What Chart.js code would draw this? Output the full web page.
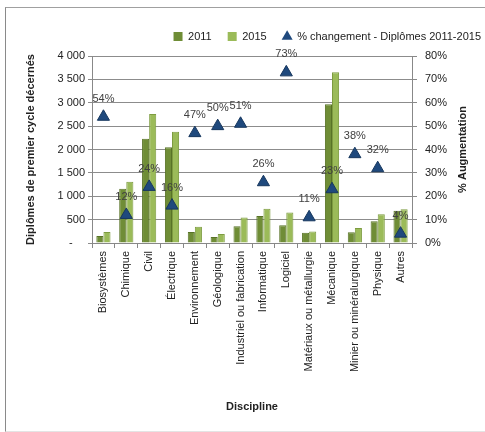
<!DOCTYPE html>
<html>
<head>
<meta charset="utf-8">
<script src="https://cdn.jsdelivr.net/npm/chart.js@4"></script>
<style>
  body { margin: 0; background: #fff; }
  #wrap { position: relative; width: 485px; height: 432px; overflow: hidden; }
  #frame { position: absolute; left: 5px; top: 7px; width: 520px; height: 423px;
           border-left: 1px solid #8a8a8a; border-top: 1px solid #a0a0a0; border-bottom: 1px solid #e4e4e4; }
  canvas { position: absolute; left: 0; top: 0; }
</style>
</head>
<body>
<div id="wrap">
  <div id="frame"></div>
  <canvas id="myChart" width="485" height="432"></canvas>
</div>
<script>
var disciplines = ['Biosystèmes', 'Chimique', 'Civil', 'Électrique', 'Environnement', 'Géologique',
    'Industriel ou fabrication', 'Informatique', 'Logiciel', 'Matériaux ou métallurgie', 'Mécanique',
    'Minier ou minéralurgique', 'Physique', 'Autres']
var diplomes2011 = [150, 1160, 2230, 2050, 235, 130, 360, 580, 380, 220, 2970, 230, 465, 690]
var diplomes2015 = [235, 1310, 2760, 2380, 345, 195, 545, 730, 655, 245, 3655, 320, 615, 720]
var changement = [54, 12, 24, 16, 47, 50, 51, 26, 73, 11, 23, 38, 32, 4]

var police = "'Liberation Sans', Arial, sans-serif"

// petit espace entre la légende et la zone du graphique
var espace = {
    id: 'espace',
    beforeInit: function (chart) {
        Chart.layouts.addBox(chart, {
            position: 'top', weight: 0, fullSize: true, options: {},
            left: 0, top: 0, right: 0, bottom: 0, width: 0, height: 0,
            isHorizontal: function () { return true },
            update: function (maxWidth) { this.width = maxWidth; this.height = 4 },
            draw: function () {}
        })
    }
}

// étiquettes des triangles + titre de l'axe de droite
var etiquettes = {
    id: 'etiquettes',
    afterDatasetsDraw: function (chart) {
        var ctx = chart.ctx
        var meta = chart.getDatasetMeta(2)
        ctx.save()
        ctx.font = '11px ' + police
        ctx.fillStyle = '#404040'
        ctx.textAlign = 'center'
        ctx.textBaseline = 'middle'
        meta.data.forEach(function (pt, i) {
            ctx.fillText(changement[i] + '%', pt.x, pt.y - 18)
        })
        ctx.restore()
    },
    afterDraw: function (chart) {
        var ctx = chart.ctx
        var area = chart.chartArea
        ctx.save()
        ctx.translate(463, (area.top + area.bottom) / 2)
        ctx.rotate(-Math.PI / 2)
        ctx.font = 'bold 11px ' + police
        ctx.fillStyle = '#222'
        ctx.textAlign = 'center'
        ctx.textBaseline = 'middle'
        ctx.fillText('% Augmentation', 0, 0)
        ctx.restore()
    }
}

const abc = document.getElementById('myChart')
const myChart = new Chart(abc, {
    data: {
        labels: disciplines,
        datasets: [{
            type: 'bar',
            label: '2011',
            data: diplomes2011,
            backgroundColor: '#6f8d36',
            borderColor: '#587327',
            borderWidth: 1,
            yAxisID: 'y',
            order: 2
        }, {
            type: 'bar',
            label: '2015',
            data: diplomes2015,
            backgroundColor: '#9bbb59',
            borderColor: '#7d9c40',
            borderWidth: 1,
            yAxisID: 'y',
            order: 2
        }, {
            type: 'line',
            label: '% changement - Diplômes 2011-2015',
            data: changement,
            yAxisID: 'y1',
            showLine: false,
            pointStyle: 'triangle',
            pointRadius: 7,
            pointHoverRadius: 7,
            backgroundColor: '#1f497d',
            borderColor: '#17375e',
            pointBorderWidth: 1,
            order: 1
        }]
    },
    plugins: [espace, etiquettes],
    options: {
        responsive: false,
        animation: false,
        layout: { padding: { left: 20, right: -12, top: 15, bottom: 14 } },
        datasets: {
            bar: { categoryPercentage: 0.62, barPercentage: 1 }
        },
        plugins: {
            tooltip: { enabled: false },
            legend: {
                align: 'end',
                labels: {
                    usePointStyle: true,
                    boxWidth: 9,
                    boxHeight: 9,
                    padding: 16,
                    color: '#222',
                    font: { family: police, size: 11 },
                    generateLabels: function (chart) {
                        var items = Chart.defaults.plugins.legend.labels.generateLabels(chart)
                        items.sort(function (a, b) { return a.datasetIndex - b.datasetIndex })
                        items.forEach(function (it) {
                            it.pointStyle = it.datasetIndex < 2 ? 'rect' : 'triangle'
                            it.lineWidth = 0
                        })
                        return items
                    }
                }
            }
        },
        scales: {
            x: {
                grid: { offset: true, drawOnChartArea: false, tickLength: 5, color: '#888' },
                border: { color: '#888' },
                ticks: {
                    autoSkip: false, maxRotation: 90, minRotation: 90, padding: 3,
                    color: '#222', font: { family: police, size: 11 }
                },
                title: {
                    display: true, text: 'Discipline', color: '#222',
                    font: { family: police, size: 11, weight: 'bold' }
                },
                afterFit: function (s) { s.height = 175 }
            },
            y: {
                position: 'left',
                min: 0, max: 4000,
                ticks: {
                    stepSize: 500, padding: 3, color: '#222',
                    font: { family: police, size: 11 },
                    callback: function (v) {
                        if (v === 0) return '-    '
                        return String(v).replace(/\B(?=(\d{3})+(?!\d))/g, ' ')
                    }
                },
                grid: { color: '#8c8c8c', tickLength: 4 },
                border: { color: '#888' },
                title: {
                    display: true, text: 'Diplômes de premier cycle décernés', color: '#222',
                    font: { family: police, size: 11, weight: 'bold' }
                },
                afterFit: function (s) { s.width = 72 }
            },
            y1: {
                position: 'right',
                min: 0, max: 80,
                ticks: {
                    stepSize: 10, padding: 8, color: '#222',
                    font: { family: police, size: 11 },
                    callback: function (v) { return v + '%' }
                },
                grid: { drawOnChartArea: false, tickLength: 5, color: '#888' },
                border: { color: '#888' },
                afterFit: function (s) { s.width = 85 }
            }
        }
    }
})
</script>
</body>
</html>
